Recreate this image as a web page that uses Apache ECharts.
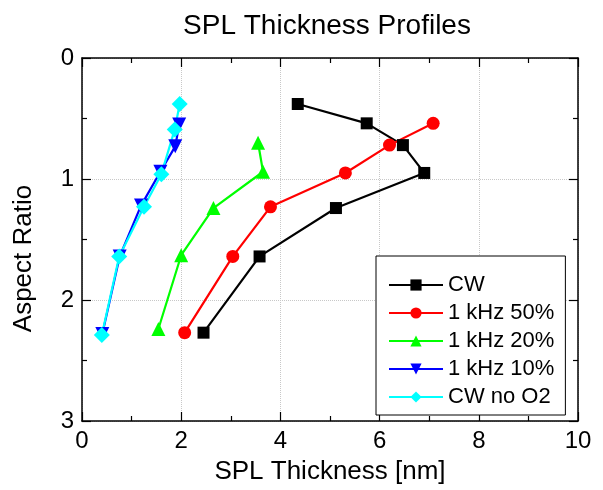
<!DOCTYPE html>
<html>
<head>
<meta charset="utf-8">
<script src="https://cdn.jsdelivr.net/npm/echarts@6/dist/echarts.min.js"></script>
<style>
  html, body { margin: 0; padding: 0; background: #fff; }
  #chart { width: 603px; height: 490px; }
</style>
</head>
<body>
<div id="chart"></div>
<script>
// series names, in legend order
const seriesNames = ['CW', '1 kHz 50%', '1 kHz 20%', '1 kHz 10%', 'CW no O2'];

// SPL thickness [nm] (x) and aspect ratio (y)
const cwX = [2.45, 3.58, 5.12, 6.90, 6.47, 5.74, 4.35];
const cwY = [2.27, 1.64, 1.24, 0.95, 0.72, 0.54, 0.38];

const k50X = [2.07, 3.04, 3.80, 5.31, 6.20, 7.08];
const k50Y = [2.27, 1.64, 1.23, 0.95, 0.72, 0.54];

const k20X = [1.54, 2.00, 2.65, 3.65, 3.55];
const k20Y = [2.24, 1.63, 1.24, 0.94, 0.70];

const k10X = [0.41, 0.76, 1.19, 1.58, 1.88, 1.96];
const k10Y = [2.28, 1.64, 1.22, 0.94, 0.73, 0.55];

const noO2X = [0.40, 0.75, 1.25, 1.60, 1.87, 1.97];
const noO2Y = [2.29, 1.64, 1.23, 0.96, 0.59, 0.38];

// axis ticks
const xTicks = { min: 0, max: 10, interval: 2 };
const yTicks = { min: 0, max: 3, interval: 1 };

const FONT = '"Liberation Sans", Arial, sans-serif';

function pairs(xs, ys) {
  return xs.map((x, i) => [x, ys[i]]);
}

function makeSeries(name, xs, ys, color, symbol, size, rotate) {
  return {
    name: name,
    type: 'line',
    data: pairs(xs, ys),
    symbol: symbol,
    symbolSize: size,
    symbolRotate: rotate || 0,
    showSymbol: true,
    animation: false,
    lineStyle: { color: color, width: 2.2 },
    itemStyle: { color: color, borderWidth: 0 },
    emphasis: { disabled: true }
  };
}

const chart = echarts.init(document.getElementById('chart'));

const axisCommon = {
  type: 'value',
  axisLine: { show: true, onZero: false, lineStyle: { color: '#000', width: 1.5 } },
  axisTick: { show: true, inside: true, length: 9, lineStyle: { color: '#000', width: 1.2 } },
  minorTick: { show: true, splitNumber: 2, length: 5, lineStyle: { color: '#000', width: 1.2 } },
  splitLine: { show: false },
  minorSplitLine: { show: false }
};

chart.setOption({
  animation: false,
  backgroundColor: '#fff',
  title: {
    text: 'SPL Thickness Profiles',
    left: 327,
    top: 12,
    padding: 0,
    textAlign: 'center',
    textStyle: { fontFamily: FONT, fontSize: 28, fontWeight: 'normal', color: '#000' }
  },
  grid: { left: 82, right: 25, top: 58, bottom: 67, containLabel: false },
  legend: {
    orient: 'vertical',
    left: 376,
    top: 256,
    padding: [18, 11, 7, 12],
    itemWidth: 54,
    itemHeight: 14,
    itemGap: 6,
    borderColor: '#000',
    borderWidth: 1,
    backgroundColor: '#fff',
    borderRadius: 0,
    data: seriesNames,
    textStyle: { fontFamily: FONT, fontSize: 22, color: '#000' }
  },
  xAxis: [
    Object.assign({}, axisCommon, {
      position: 'bottom',
      min: xTicks.min, max: xTicks.max, interval: xTicks.interval,
      name: 'SPL Thickness [nm]',
      nameLocation: 'middle',
      nameGap: 38,
      nameTextStyle: { fontFamily: FONT, fontSize: 26, color: '#000' },
      axisLabel: { fontFamily: FONT, fontSize: 24, color: '#000', margin: 8 },
      splitLine: { show: true, lineStyle: { color: '#c8c8c8', type: 'dotted', width: 1 } }
    }),
    Object.assign({}, axisCommon, {
      position: 'top',
      min: xTicks.min, max: xTicks.max, interval: xTicks.interval,
      axisLabel: { show: false }
    })
  ],
  yAxis: [
    Object.assign({}, axisCommon, {
      position: 'left',
      inverse: true,
      min: yTicks.min, max: yTicks.max, interval: yTicks.interval,
      name: 'Aspect Ratio',
      nameLocation: 'middle',
      nameGap: 45,
      nameTextStyle: { fontFamily: FONT, fontSize: 26, color: '#000', padding: [0, 38, 0, 0] },
      axisLabel: { fontFamily: FONT, fontSize: 24, color: '#000', margin: 8 },
      splitLine: { show: true, lineStyle: { color: '#c8c8c8', type: 'dotted', width: 1 } }
    }),
    Object.assign({}, axisCommon, {
      position: 'right',
      inverse: true,
      min: yTicks.min, max: yTicks.max, interval: yTicks.interval,
      axisLabel: { show: false }
    })
  ],
  series: [
    makeSeries(seriesNames[0], cwX, cwY, '#000000', 'rect', 12),
    makeSeries(seriesNames[1], k50X, k50Y, '#ff0000', 'circle', 13),
    makeSeries(seriesNames[2], k20X, k20Y, '#00ff00', 'triangle', 14),
    makeSeries(seriesNames[3], k10X, k10Y, '#0000ff', 'triangle', 14, 180),
    makeSeries(seriesNames[4], noO2X, noO2Y, '#00ffff', 'diamond', 16)
  ]
});
</script>
</body>
</html>
